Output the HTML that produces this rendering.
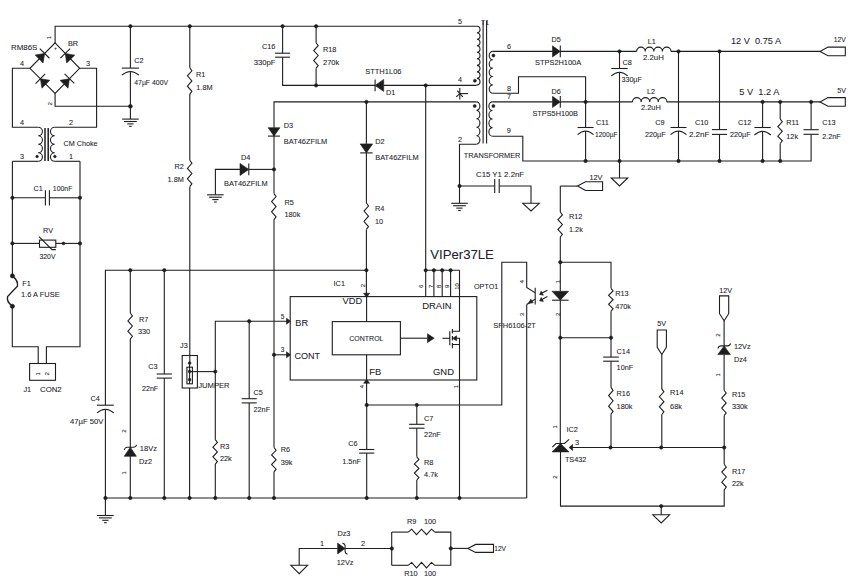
<!DOCTYPE html>
<html><head><meta charset="utf-8"><style>
html,body{margin:0;padding:0;background:#fff;}
svg{display:block;}
path,rect,circle{fill:none;stroke:#1e1e1e;stroke-width:1.1;stroke-linejoin:miter;}
.f{fill:#1e1e1e;stroke:#1e1e1e;stroke-width:0.6;}
text{white-space:pre;font-family:"Liberation Sans",sans-serif;font-size:7.3px;fill:#23232b;stroke:#23232b;stroke-width:0.08;}
</style></head><body>
<svg width="859" height="588" viewBox="0 0 859 588">
<rect x="0" y="0" width="859" height="588" style="fill:#fff;stroke:none"/>
<path d="M55.10,42.90 L55.10,26.20 L476.90,26.20"/>
<path d="M55.1,42.9 L79.6,68.3 L55.1,93.4 L29.9,68.3 Z"/>
<path class="f" d="M43.09,62.95 L35.14,55.06 L44.61,53.47 Z"/>
<path d="M49.44,58.26 L39.79,48.68"/>
<path class="f" d="M74.71,55.17 L66.65,62.94 L65.27,53.44 Z"/>
<path d="M70.16,48.72 L60.37,58.16"/>
<path class="f" d="M49.85,80.27 L41.95,88.21 L40.37,78.73 Z"/>
<path d="M45.17,73.92 L35.58,83.55"/>
<path class="f" d="M68.00,88.20 L59.99,80.37 L69.45,78.70 Z"/>
<path d="M74.31,83.45 L64.58,73.95"/>
<path d="M29.90,68.30 L12.40,68.30 L12.40,127.30 L38.20,127.30"/>
<path d="M79.60,68.30 L96.60,68.30 L96.60,127.30 L54.70,127.30"/>
<path d="M55.10,93.40 L55.10,106.30 L130.40,106.30"/>
<text x="11" y="50.4" style="font-size:8.0px" class="t" textLength="26.30" lengthAdjust="spacingAndGlyphs">RM86S</text>
<text x="68" y="46" style="font-size:8.0px" class="t" textLength="10.14" lengthAdjust="spacingAndGlyphs">BR</text>
<text x="20" y="65.7" style="font-size:8.0px" class="t" textLength="4.06" lengthAdjust="spacingAndGlyphs">4</text>
<text x="86" y="65.9" style="font-size:8.0px" class="t" textLength="4.06" lengthAdjust="spacingAndGlyphs">3</text>
<text x="55.4" y="50.3" text-anchor="middle" style="font-size:5px" class="t">+</text>
<text x="0" y="0" text-anchor="middle" class="t" style="font-size:6.0px" transform="translate(49,37.6) rotate(-90) translate(0,2.16)">1</text>
<text x="0" y="0" text-anchor="middle" class="t" style="font-size:6.0px" transform="translate(49.6,103.9) rotate(-90) translate(0,2.16)">2</text>
<path d="M38.2,127.3 A4.250,4.250 0 0 1 38.2,135.800 A4.250,4.250 0 0 1 38.2,144.300 A4.250,4.250 0 0 1 38.2,152.800 A4.250,4.250 0 0 1 38.2,161.300"/>
<path d="M54.7,127.3 A4.250,4.250 0 0 0 54.7,135.800 A4.250,4.250 0 0 0 54.7,144.300 A4.250,4.250 0 0 0 54.7,152.800 A4.250,4.250 0 0 0 54.7,161.300"/>
<path d="M38.20,161.30 L12.40,161.30"/>
<path d="M54.70,161.30 L80.00,161.30"/>
<path d="M45,128 V161 M48.2,128 V161" style="stroke-width:1.5"/>
<circle cx="37.1" cy="156.5" r="1.3" class="f"/>
<circle cx="54.9" cy="156.5" r="1.3" class="f"/>
<text x="22" y="124.7" text-anchor="middle" style="font-size:8.0px" class="t" textLength="4.06" lengthAdjust="spacingAndGlyphs">4</text>
<text x="71" y="124.7" text-anchor="middle" style="font-size:8.0px" class="t" textLength="4.06" lengthAdjust="spacingAndGlyphs">2</text>
<text x="22" y="158.6" text-anchor="middle" style="font-size:8.0px" class="t" textLength="4.06" lengthAdjust="spacingAndGlyphs">3</text>
<text x="71" y="158.6" text-anchor="middle" style="font-size:8.0px" class="t" textLength="4.06" lengthAdjust="spacingAndGlyphs">1</text>
<text x="63.5" y="145.7" style="font-size:8.0px" class="t" textLength="34.00" lengthAdjust="spacingAndGlyphs">CM Choke</text>
<path d="M12.40,161.30 L12.40,276.00"/>
<path d="M80.00,161.30 L80.00,346.70 L46.40,346.70 L46.40,363.50"/>
<path d="M12.40,197.80 L45.40,197.80"/>
<path d="M49.40,197.80 L80.00,197.80"/>
<path d="M45.40,190.20 L45.40,205.40"/>
<path d="M49.40,190.20 L49.40,205.40"/>
<circle cx="12.4" cy="197.8" r="1.7" class="f"/>
<circle cx="80" cy="197.8" r="1.7" class="f"/>
<text x="33.4" y="191.4" style="font-size:8.0px" class="t" textLength="9.33" lengthAdjust="spacingAndGlyphs">C1</text>
<text x="52.8" y="191.4" style="font-size:8.0px" class="t" textLength="19.60" lengthAdjust="spacingAndGlyphs">100nF</text>
<path d="M12.40,243.40 L39.50,243.40"/>
<path d="M55.80,243.40 L80.00,243.40"/>
<rect x="39.5" y="240.1" width="16.3" height="7.2"/>
<path d="M39.00,236.60 L52.00,249.60 L55.80,249.60"/>
<circle cx="63.5" cy="243.4" r="1.4" class="f"/>
<circle cx="12.4" cy="243.4" r="1.7" class="f"/>
<circle cx="80" cy="243.4" r="1.7" class="f"/>
<text x="43.1" y="233" style="font-size:8.0px" class="t" textLength="10.01" lengthAdjust="spacingAndGlyphs">RV</text>
<text x="39.5" y="258.7" style="font-size:8.0px" class="t" textLength="16.00" lengthAdjust="spacingAndGlyphs">320V</text>
<circle cx="12.4" cy="275.9" r="2.1" class="f"/>
<circle cx="12.4" cy="306.3" r="2.1" class="f"/>
<path d="M12.4,275.9 Q18.6,281 17.4,286.2 L7.6,296.6 Q6.2,301.5 12.4,306.3" style="stroke-width:1.4"/>
<text x="22.2" y="286" style="font-size:8.0px" class="t" textLength="8.52" lengthAdjust="spacingAndGlyphs">F1</text>
<text x="21" y="297.1" style="font-size:8.0px" class="t" textLength="38.70" lengthAdjust="spacingAndGlyphs">1.6 A FUSE</text>
<path d="M12.30,306.30 L12.30,346.70 L38.20,346.70 L38.20,363.50"/>
<rect x="29.6" y="363.5" width="25.9" height="16.8"/>
<text x="0" y="0" text-anchor="middle" class="t" style="font-size:6.0px" transform="translate(38.2,373.9) rotate(-90) translate(0,2.16)">1</text>
<text x="0" y="0" text-anchor="middle" class="t" style="font-size:6.0px" transform="translate(46.4,373.9) rotate(-90) translate(0,2.16)">2</text>
<text x="23.4" y="392" style="font-size:8.0px" class="t" textLength="7.71" lengthAdjust="spacingAndGlyphs">J1</text>
<text x="40" y="392" style="font-size:8.0px" class="t" textLength="21.70" lengthAdjust="spacingAndGlyphs">CON2</text>
<path d="M130.40,26.20 L130.40,68.10"/>
<path d="M130.40,71.50 L130.40,119.10"/>
<path d="M121.80,68.10 L139.00,68.10"/>
<path d="M121.80000000000001,75.2 Q130.4,67.8 139.0,75.2"/>
<circle cx="130.4" cy="26.2" r="1.7" class="f"/>
<circle cx="130.4" cy="106.3" r="1.9" class="f"/>
<path d="M122.10,119.10 L138.70,119.10"/>
<path d="M124.05,121.50 L136.75,121.50"/>
<path d="M127.25,123.90 L133.55,123.90"/>
<path d="M129.10,126.30 L131.70,126.30"/>
<text x="134.2" y="63.2" style="font-size:8.0px" class="t" textLength="9.33" lengthAdjust="spacingAndGlyphs">C2</text>
<text x="134.2" y="84.7" style="font-size:8.0px" class="t" textLength="34.00" lengthAdjust="spacingAndGlyphs">47µF 400V</text>
<path d="M189.80,26.20 L189.80,67.80"/>
<path d="M189.80,67.80 L191.90,70.79 L187.40,75.87 L191.90,80.95 L187.40,86.23 L191.90,91.31 L189.80,94.10"/>
<path d="M189.80,94.10 L189.80,160.30"/>
<path d="M189.80,160.30 L191.90,163.30 L187.40,168.40 L191.90,173.50 L187.40,178.80 L191.90,183.90 L189.80,186.70"/>
<path d="M189.80,186.70 L189.80,363.10"/>
<circle cx="189.8" cy="26.2" r="1.7" class="f"/>
<text x="196.1" y="76.7" style="font-size:8.0px" class="t" textLength="9.33" lengthAdjust="spacingAndGlyphs">R1</text>
<text x="196.3" y="89.9" style="font-size:8.0px" class="t" textLength="16.23" lengthAdjust="spacingAndGlyphs">1.8M</text>
<text x="183.8" y="168.8" text-anchor="end" style="font-size:8.0px" class="t" textLength="9.33" lengthAdjust="spacingAndGlyphs">R2</text>
<text x="183.8" y="181.7" text-anchor="end" style="font-size:8.0px" class="t" textLength="16.23" lengthAdjust="spacingAndGlyphs">1.8M</text>
<path d="M282.60,26.20 L282.60,53.20"/>
<path d="M282.60,57.20 L282.60,85.40 L375.10,85.40"/>
<path d="M275.10,53.20 L290.10,53.20"/>
<path d="M275.10,57.20 L290.10,57.20"/>
<circle cx="282.6" cy="26.2" r="1.7" class="f"/>
<text x="262" y="48.5" style="font-size:8.0px" class="t" textLength="13.39" lengthAdjust="spacingAndGlyphs">C16</text>
<text x="253.75" y="65" style="font-size:8.0px" class="t" textLength="21.75" lengthAdjust="spacingAndGlyphs">330pF</text>
<path d="M316.10,26.20 L316.10,42.80"/>
<path d="M316.10,42.80 L318.20,45.69 L313.70,50.59 L318.20,55.50 L313.70,60.60 L318.20,65.51 L316.10,68.20"/>
<path d="M316.10,68.20 L316.10,85.40"/>
<circle cx="316.1" cy="26.2" r="1.7" class="f"/>
<circle cx="316.1" cy="85.4" r="1.7" class="f"/>
<text x="323" y="51.5" style="font-size:8.0px" class="t" textLength="13.39" lengthAdjust="spacingAndGlyphs">R18</text>
<text x="323" y="65" style="font-size:8.0px" class="t" textLength="16.25" lengthAdjust="spacingAndGlyphs">270k</text>
<path class="f" d="M383.70,79.40 L383.70,91.40 L375.10,85.40 Z"/>
<path d="M375.10,79.60 L375.10,91.20"/>
<path d="M383.70,85.40 L476.50,85.40"/>
<circle cx="425.7" cy="85.4" r="1.7" class="f"/>
<text x="365.2" y="74.1" style="font-size:8.0px" class="t" textLength="36.30" lengthAdjust="spacingAndGlyphs">STTH1L06</text>
<text x="386.1" y="94.9" style="font-size:8.0px" class="t" textLength="9.33" lengthAdjust="spacingAndGlyphs">D1</text>
<path d="M425.70,85.40 L425.70,270.30"/>
<path d="M459.80,88.00 L459.80,99.60"/>
<path d="M459.80,93.60 L468.20,93.60"/>
<path d="M459.80,93.60 L456.20,96.80"/>
<path d="M459.80,93.60 L462.80,96.80"/>
<path d="M459.80,93.60 L457.30,90.60"/>
<path d="M274.00,136.10 L274.00,101.90 L476.50,101.90"/>
<circle cx="366.4" cy="101.9" r="1.7" class="f"/>
<path class="f" d="M268.10,127.70 L279.90,127.70 L274.00,136.10 Z"/>
<path d="M268.00,136.10 L280.00,136.10"/>
<path d="M274.00,136.10 L274.00,193.60"/>
<text x="283.8" y="128" style="font-size:8.0px" class="t" textLength="9.33" lengthAdjust="spacingAndGlyphs">D3</text>
<text x="283.8" y="143.5" style="font-size:8.0px" class="t" textLength="43.50" lengthAdjust="spacingAndGlyphs">BAT46ZFILM</text>
<path d="M366.40,101.90 L366.40,143.90"/>
<path class="f" d="M360.20,143.90 L372.60,143.90 L366.40,152.90 Z"/>
<path d="M360.20,152.90 L372.60,152.90"/>
<path d="M366.40,152.90 L366.40,203.00"/>
<text x="375.2" y="143.5" style="font-size:8.0px" class="t" textLength="9.33" lengthAdjust="spacingAndGlyphs">D2</text>
<text x="375.2" y="159.6" style="font-size:8.0px" class="t" textLength="43.50" lengthAdjust="spacingAndGlyphs">BAT46ZFILM</text>
<path d="M215.40,194.80 L215.40,169.40 L240.00,169.40"/>
<path class="f" d="M240.00,175.40 L240.00,163.40 L248.80,169.40 Z"/>
<path d="M248.80,175.20 L248.80,163.60"/>
<path d="M248.80,169.40 L274.00,169.40"/>
<circle cx="274" cy="169.4" r="1.7" class="f"/>
<path d="M207.10,194.80 L223.70,194.80"/>
<path d="M209.05,197.20 L221.75,197.20"/>
<path d="M212.25,199.60 L218.55,199.60"/>
<path d="M214.10,202.00 L216.70,202.00"/>
<text x="241" y="159.8" style="font-size:8.0px" class="t" textLength="9.33" lengthAdjust="spacingAndGlyphs">D4</text>
<text x="224.1" y="185.5" style="font-size:8.0px" class="t" textLength="43.50" lengthAdjust="spacingAndGlyphs">BAT46ZFILM</text>
<path d="M274.00,193.60 L276.10,196.55 L271.60,201.58 L276.10,206.60 L271.60,211.82 L276.10,216.84 L274.00,219.60"/>
<path d="M274.00,219.60 L274.00,447.50"/>
<text x="284.5" y="205" style="font-size:8.0px" class="t" textLength="9.33" lengthAdjust="spacingAndGlyphs">R5</text>
<text x="284.5" y="217" style="font-size:8.0px" class="t" textLength="15.83" lengthAdjust="spacingAndGlyphs">180k</text>
<path d="M366.40,203.00 L368.50,206.00 L364.00,211.10 L368.50,216.20 L364.00,221.50 L368.50,226.60 L366.40,229.40"/>
<path d="M366.40,229.40 L366.40,296.60"/>
<text x="375" y="210.6" style="font-size:8.0px" class="t" textLength="9.33" lengthAdjust="spacingAndGlyphs">R4</text>
<text x="375" y="223.6" style="font-size:8.0px" class="t" textLength="8.12" lengthAdjust="spacingAndGlyphs">10</text>
<path d="M476.9,26.2 A3.100,3.261 0 0 1 476.9,32.722 A3.100,3.261 0 0 1 476.9,39.244 A3.100,3.261 0 0 1 476.9,45.767 A3.100,3.261 0 0 1 476.9,52.289 A3.100,3.261 0 0 1 476.9,58.811 A3.100,3.261 0 0 1 476.9,65.333 A3.100,3.261 0 0 1 476.9,71.856 A3.100,3.261 0 0 1 476.9,78.378 A3.100,3.261 0 0 1 476.9,84.900"/>
<path d="M476.90,84.90 L476.50,85.40"/>
<circle cx="474.9" cy="80.7" r="1.5" class="f"/>
<path d="M483.1,21 V143.6 M486.6,21 V143.6" style="stroke-width:1.1"/>
<text x="485" y="24.8" text-anchor="middle" style="font-size:6.8px" class="t">T1</text>
<text x="460" y="23.5" text-anchor="middle" style="font-size:8.0px" class="t" textLength="4.06" lengthAdjust="spacingAndGlyphs">5</text>
<text x="460" y="82.2" text-anchor="middle" style="font-size:8.0px" class="t" textLength="4.06" lengthAdjust="spacingAndGlyphs">4</text>
<path d="M476.5,101.9 A3.400,4.230 0 0 1 476.5,110.360 A3.400,4.230 0 0 1 476.5,118.820 A3.400,4.230 0 0 1 476.5,127.280 A3.400,4.230 0 0 1 476.5,135.740 A3.400,4.230 0 0 1 476.5,144.200"/>
<circle cx="474.7" cy="106" r="1.5" class="f"/>
<path d="M476.50,144.20 L459.50,144.20 L459.50,203.30"/>
<text x="460" y="142" text-anchor="middle" style="font-size:8.0px" class="t" textLength="4.06" lengthAdjust="spacingAndGlyphs">2</text>
<circle cx="459.5" cy="186" r="1.7" class="f"/>
<path d="M451.20,203.30 L467.80,203.30"/>
<path d="M453.15,205.70 L465.85,205.70"/>
<path d="M456.35,208.10 L462.65,208.10"/>
<path d="M458.20,210.50 L460.80,210.50"/>
<path d="M459.50,186.00 L494.70,186.00"/>
<path d="M499.20,186.00 L531.00,186.00 L531.00,203.30"/>
<path d="M494.70,179.00 L494.70,193.00"/>
<path d="M499.20,179.00 L499.20,193.00"/>
<path d="M522.75,203.30 L539.25,203.30 L531.00,211.00 Z"/>
<text x="476" y="176.7" style="font-size:8.0px" class="t" textLength="48.10" lengthAdjust="spacingAndGlyphs">C15 Y1 2.2nF</text>
<text x="463.8" y="157.8" style="font-size:8.0px" class="t" textLength="56.60" lengthAdjust="spacingAndGlyphs">TRANSFORMER</text>
<path d="M492.8,51.4 A3.600,4.190 0 0 0 492.8,59.780 A3.600,4.190 0 0 0 492.8,68.160 A3.600,4.190 0 0 0 492.8,76.540 A3.600,4.190 0 0 0 492.8,84.920 A3.600,4.190 0 0 0 492.8,93.300"/>
<circle cx="493.4" cy="55.6" r="1.5" class="f"/>
<path d="M492.80,51.40 L552.50,51.40"/>
<path d="M492.80,93.30 L518.50,93.30 L518.50,76.80 L585.60,76.80 L585.60,127.50"/>
<text x="509" y="48.8" text-anchor="middle" style="font-size:8.0px" class="t" textLength="4.06" lengthAdjust="spacingAndGlyphs">6</text>
<text x="509" y="91" text-anchor="middle" style="font-size:8.0px" class="t" textLength="4.06" lengthAdjust="spacingAndGlyphs">8</text>
<path d="M492.5,101.9 A3.600,4.287 0 0 0 492.5,110.475 A3.600,4.287 0 0 0 492.5,119.050 A3.600,4.287 0 0 0 492.5,127.625 A3.600,4.287 0 0 0 492.5,136.200"/>
<circle cx="493.4" cy="106" r="1.5" class="f"/>
<path d="M492.50,101.90 L552.50,101.90"/>
<text x="509" y="98.8" text-anchor="middle" style="font-size:8.0px" class="t" textLength="4.06" lengthAdjust="spacingAndGlyphs">7</text>
<path d="M492.50,136.20 L522.80,136.20 L522.80,161.00 L811.10,161.00 L811.10,134.30"/>
<text x="508.8" y="133" text-anchor="middle" style="font-size:8.0px" class="t" textLength="4.06" lengthAdjust="spacingAndGlyphs">9</text>
<path class="f" d="M552.50,57.00 L552.50,45.80 L560.30,51.40 Z"/>
<path d="M560.30,57.30 L560.30,45.50"/>
<path class="f" d="M552.50,107.50 L552.50,96.30 L560.30,101.90 Z"/>
<path d="M560.30,107.80 L560.30,96.00"/>
<path d="M560.30,51.40 L636.60,51.40"/>
<path d="M560.30,101.90 L632.50,101.90"/>
<text x="556.2" y="42.2" text-anchor="middle" style="font-size:8.0px" class="t" textLength="9.33" lengthAdjust="spacingAndGlyphs">D5</text>
<text x="535" y="65" style="font-size:8.0px" class="t" textLength="46.20" lengthAdjust="spacingAndGlyphs">STPS2H100A</text>
<text x="556.2" y="93.5" text-anchor="middle" style="font-size:8.0px" class="t" textLength="9.33" lengthAdjust="spacingAndGlyphs">D6</text>
<text x="532.5" y="116" style="font-size:8.0px" class="t" textLength="45.50" lengthAdjust="spacingAndGlyphs">STPS5H100B</text>
<circle cx="585.6" cy="101.9" r="1.7" class="f"/>
<path d="M577.60,127.50 L593.60,127.50"/>
<path d="M577.6,134.7 Q585.6,127.3 593.6,134.7"/>
<path d="M585.60,131.00 L585.60,161.00"/>
<circle cx="585.6" cy="161.0" r="1.7" class="f"/>
<text x="596" y="125" style="font-size:8.0px" class="t" textLength="12.85" lengthAdjust="spacingAndGlyphs">C11</text>
<text x="595" y="136.7" style="font-size:8.0px" class="t" textLength="22.60" lengthAdjust="spacingAndGlyphs">1200µF</text>
<circle cx="619.5" cy="51.4" r="1.7" class="f"/>
<path d="M619.50,51.40 L619.50,68.50"/>
<path d="M611.30,68.50 L627.70,68.50"/>
<path d="M611.3,75.9 Q619.5,68.5 627.7,75.9"/>
<path d="M619.50,72.20 L619.50,178.00"/>
<circle cx="619.5" cy="161.0" r="1.7" class="f"/>
<path d="M611.25,178.00 L627.75,178.00 L619.50,186.00 Z"/>
<text x="622.6" y="65" style="font-size:8.0px" class="t" textLength="9.33" lengthAdjust="spacingAndGlyphs">C8</text>
<text x="621.4" y="82" style="font-size:8.0px" class="t" textLength="20.50" lengthAdjust="spacingAndGlyphs">330µF</text>
<path d="M636.6,51.4 A4.300,4.300 0 0 1 645.200,51.4 A4.300,4.300 0 0 1 653.800,51.4 A4.300,4.300 0 0 1 662.400,51.4 A4.300,4.300 0 0 1 671.000,51.4"/>
<path d="M671.00,51.40 L820.00,51.40"/>
<path d="M632.5,101.9 A4.300,4.300 0 0 1 641.100,101.9 A4.300,4.300 0 0 1 649.700,101.9 A4.300,4.300 0 0 1 658.300,101.9 A4.300,4.300 0 0 1 666.900,101.9"/>
<path d="M666.90,101.90 L820.00,101.90"/>
<text x="651.7" y="43.7" text-anchor="middle" style="font-size:8.0px" class="t" textLength="8.12" lengthAdjust="spacingAndGlyphs">L1</text>
<text x="643" y="59.6" style="font-size:8.0px" class="t" textLength="20.80" lengthAdjust="spacingAndGlyphs">2.2uH</text>
<text x="651" y="94.3" text-anchor="middle" style="font-size:8.0px" class="t" textLength="8.12" lengthAdjust="spacingAndGlyphs">L2</text>
<text x="640.9" y="109.5" style="font-size:8.0px" class="t" textLength="20.00" lengthAdjust="spacingAndGlyphs">2.2uH</text>
<text x="731" y="44" style="font-size:9.3px" class="t" textLength="50" lengthAdjust="spacingAndGlyphs">12 V  0.75 A</text>
<text x="739.3" y="94.5" style="font-size:9.3px" class="t" textLength="40" lengthAdjust="spacingAndGlyphs">5 V  1.2 A</text>
<path d="M820,51.4 L828,47.1 L845.3,47.1 L845.3,55.699999999999996 L828,55.699999999999996 Z"/>
<path d="M820,101.9 L828,97.60000000000001 L845.3,97.60000000000001 L845.3,106.2 L828,106.2 Z"/>
<text x="833.8" y="41.9" style="font-size:8.0px" class="t" textLength="12.10" lengthAdjust="spacingAndGlyphs">12V</text>
<text x="837.2" y="92.6" style="font-size:8.0px" class="t" textLength="8.80" lengthAdjust="spacingAndGlyphs">5V</text>
<circle cx="678.5" cy="51.4" r="1.7" class="f"/>
<circle cx="719.5" cy="51.4" r="1.7" class="f"/>
<circle cx="762.6" cy="101.9" r="1.7" class="f"/>
<circle cx="780.2" cy="101.9" r="1.7" class="f"/>
<circle cx="811.1" cy="101.9" r="1.7" class="f"/>
<path d="M678.50,51.40 L678.50,127.50"/>
<path d="M670.50,127.50 L686.50,127.50"/>
<path d="M670.5,134.7 Q678.5,127.3 686.5,134.7"/>
<path d="M678.50,131.00 L678.50,161.00"/>
<path d="M719.50,51.40 L719.50,129.60"/>
<path d="M711.90,129.60 L727.10,129.60"/>
<path d="M711.90,134.40 L727.10,134.40"/>
<path d="M719.50,134.40 L719.50,161.00"/>
<path d="M762.60,101.90 L762.60,127.50"/>
<path d="M754.40,127.50 L770.80,127.50"/>
<path d="M754.4,135.0 Q762.6,127.60000000000001 770.8000000000001,135.0"/>
<path d="M762.60,131.30 L762.60,161.00"/>
<path d="M780.20,101.90 L780.20,119.00"/>
<path d="M780.20,119.00 L782.30,121.78 L777.80,126.52 L782.30,131.25 L777.80,136.17 L782.30,140.90 L780.20,143.50"/>
<path d="M780.20,143.50 L780.20,161.00"/>
<path d="M811.10,101.90 L811.10,129.70"/>
<path d="M803.50,129.70 L818.70,129.70"/>
<path d="M803.50,134.30 L818.70,134.30"/>
<circle cx="678.5" cy="161.0" r="1.7" class="f"/>
<circle cx="719.5" cy="161.0" r="1.7" class="f"/>
<circle cx="762.6" cy="161.0" r="1.7" class="f"/>
<circle cx="780.2" cy="161.0" r="1.7" class="f"/>
<text x="655.3" y="125.3" style="font-size:8.0px" class="t" textLength="9.33" lengthAdjust="spacingAndGlyphs">C9</text>
<text x="644.9" y="137.1" style="font-size:8.0px" class="t" textLength="20.70" lengthAdjust="spacingAndGlyphs">220µF</text>
<text x="695" y="125.3" style="font-size:8.0px" class="t" textLength="13.39" lengthAdjust="spacingAndGlyphs">C10</text>
<text x="688.9" y="137.1" style="font-size:8.0px" class="t" textLength="20.60" lengthAdjust="spacingAndGlyphs">2.2nF</text>
<text x="738" y="124.7" style="font-size:8.0px" class="t" textLength="13.39" lengthAdjust="spacingAndGlyphs">C12</text>
<text x="730" y="137.1" style="font-size:8.0px" class="t" textLength="20.70" lengthAdjust="spacingAndGlyphs">220µF</text>
<text x="786.3" y="124.7" style="font-size:8.0px" class="t" textLength="12.85" lengthAdjust="spacingAndGlyphs">R11</text>
<text x="786.3" y="138.5" style="font-size:8.0px" class="t" textLength="11.77" lengthAdjust="spacingAndGlyphs">12k</text>
<text x="822.2" y="124.7" style="font-size:8.0px" class="t" textLength="13.39" lengthAdjust="spacingAndGlyphs">C13</text>
<text x="822.2" y="138.5" style="font-size:8.0px" class="t" textLength="18.60" lengthAdjust="spacingAndGlyphs">2.2nF</text>
<path d="M105.40,405.20 L105.40,270.30 L366.50,270.30"/>
<path d="M105.40,409.20 L105.40,498.00"/>
<circle cx="130.3" cy="270.2" r="1.7" class="f"/>
<circle cx="164.3" cy="270.2" r="1.7" class="f"/>
<circle cx="366.4" cy="270.2" r="1.7" class="f"/>
<path d="M130.30,270.20 L130.30,313.00"/>
<path d="M130.30,313.00 L132.40,315.95 L127.90,320.98 L132.40,326.00 L127.90,331.22 L132.40,336.24 L130.30,339.00"/>
<path d="M130.30,339.00 L130.30,447.90"/>
<text x="139.1" y="322.2" style="font-size:8.0px" class="t" textLength="9.33" lengthAdjust="spacingAndGlyphs">R7</text>
<text x="138" y="333.9" style="font-size:8.0px" class="t" textLength="12.18" lengthAdjust="spacingAndGlyphs">330</text>
<path class="f" d="M136.40,456.30 L124.20,456.30 L130.30,447.30 Z"/>
<path d="M124.20,449.90 Q125.12,447.30 126.95,447.30 L133.66,447.30 Q135.79,447.30 136.71,444.90"/>
<path d="M130.30,455.70 L130.30,498.00"/>
<text x="0" y="0" text-anchor="middle" class="t" style="font-size:6.0px" transform="translate(123.8,431.2) rotate(-90) translate(0,2.16)">2</text>
<text x="0" y="0" text-anchor="middle" class="t" style="font-size:6.0px" transform="translate(123.8,472.9) rotate(-90) translate(0,2.16)">1</text>
<text x="139.8" y="451" style="font-size:8.0px" class="t" textLength="17.10" lengthAdjust="spacingAndGlyphs">18Vz</text>
<text x="139" y="463.7" style="font-size:8.0px" class="t" textLength="12.98" lengthAdjust="spacingAndGlyphs">Dz2</text>
<path d="M164.30,270.20 L164.30,374.00"/>
<path d="M156.70,374.00 L171.90,374.00"/>
<path d="M156.70,378.10 L171.90,378.10"/>
<path d="M164.30,378.10 L164.30,498.00"/>
<text x="148.2" y="369.3" style="font-size:8.0px" class="t" textLength="9.33" lengthAdjust="spacingAndGlyphs">C3</text>
<text x="142" y="391.4" style="font-size:8.0px" class="t" textLength="16.20" lengthAdjust="spacingAndGlyphs">22nF</text>
<path d="M97.00,405.20 L113.80,405.20"/>
<path d="M97.0,412.9 Q105.4,405.5 113.80000000000001,412.9"/>
<text x="90.5" y="401.4" style="font-size:8.0px" class="t" textLength="9.33" lengthAdjust="spacingAndGlyphs">C4</text>
<text x="70" y="424" style="font-size:8.0px" class="t" textLength="33.40" lengthAdjust="spacingAndGlyphs">47µF 50V</text>
<path d="M105.40,498.00 L105.40,515.50"/>
<path d="M97.10,515.50 L113.70,515.50"/>
<path d="M99.05,517.90 L111.75,517.90"/>
<path d="M102.25,520.30 L108.55,520.30"/>
<path d="M104.10,522.70 L106.70,522.70"/>
<rect x="182.2" y="355.5" width="15.2" height="32.5"/>
<rect x="186.9" y="367.2" width="5.5" height="16.6"/>
<path d="M189.60,363.10 L189.60,383.80"/>
<circle cx="189.6" cy="363.1" r="1.4" class="f"/>
<circle cx="189.6" cy="371.6" r="1.4" class="f"/>
<circle cx="189.6" cy="379.7" r="1.4" class="f"/>
<path d="M189.60,371.60 L215.30,371.60"/>
<path d="M189.60,388.00 L189.60,498.00"/>
<circle cx="215.3" cy="371.6" r="1.7" class="f"/>
<text x="180.1" y="347.5" style="font-size:8.0px" class="t" textLength="7.71" lengthAdjust="spacingAndGlyphs">J3</text>
<text x="198.2" y="387.6" style="font-size:8.0px" class="t" textLength="31.40" lengthAdjust="spacingAndGlyphs">JUMPER</text>
<path d="M215.30,439.70 L215.30,321.20 L287.00,321.20"/>
<path d="M215.30,464.10 L215.30,498.00"/>
<circle cx="249.2" cy="321.2" r="1.7" class="f"/>
<path d="M249.20,321.20 L249.20,398.70"/>
<path d="M241.70,398.70 L256.70,398.70"/>
<path d="M241.70,402.90 L256.70,402.90"/>
<path d="M249.20,402.90 L249.20,498.00"/>
<text x="253.5" y="394.8" style="font-size:8.0px" class="t" textLength="9.33" lengthAdjust="spacingAndGlyphs">C5</text>
<text x="253.5" y="411.8" style="font-size:8.0px" class="t" textLength="16.64" lengthAdjust="spacingAndGlyphs">22nF</text>
<path d="M215.30,439.70 L217.40,442.47 L212.90,447.19 L217.40,451.90 L212.90,456.80 L217.40,461.51 L215.30,464.10"/>
<text x="219.9" y="449" style="font-size:8.0px" class="t" textLength="9.33" lengthAdjust="spacingAndGlyphs">R3</text>
<text x="219.9" y="460.5" style="font-size:8.0px" class="t" textLength="11.77" lengthAdjust="spacingAndGlyphs">22k</text>
<circle cx="274" cy="354.8" r="1.7" class="f"/>
<path d="M274.00,354.80 L287.00,354.80"/>
<path class="f" d="M286.50,318.20 L286.50,324.20 L290.50,321.20 Z"/>
<path class="f" d="M286.50,351.80 L286.50,357.80 L290.50,354.80 Z"/>
<path d="M274.00,447.50 L276.10,450.26 L271.60,454.96 L276.10,459.65 L271.60,464.53 L276.10,469.22 L274.00,471.80"/>
<path d="M274.00,471.80 L274.00,498.00"/>
<text x="280.7" y="452.3" style="font-size:8.0px" class="t" textLength="9.33" lengthAdjust="spacingAndGlyphs">R6</text>
<text x="280.7" y="464.9" style="font-size:8.0px" class="t" textLength="11.77" lengthAdjust="spacingAndGlyphs">39k</text>
<text x="282.5" y="318.5" text-anchor="middle" style="font-size:6.5px" class="t">5</text>
<text x="282.5" y="351.5" text-anchor="middle" style="font-size:6.5px" class="t">3</text>
<path d="M105.40,498.00 L526.70,498.00"/>
<circle cx="105.4" cy="498.0" r="1.7" class="f"/>
<circle cx="130.3" cy="498.0" r="1.7" class="f"/>
<circle cx="164.3" cy="498.0" r="1.7" class="f"/>
<circle cx="189.6" cy="498.0" r="1.7" class="f"/>
<circle cx="215.3" cy="498.0" r="1.7" class="f"/>
<circle cx="249.2" cy="498.0" r="1.7" class="f"/>
<circle cx="274" cy="498.0" r="1.7" class="f"/>
<circle cx="366.7" cy="498.0" r="1.7" class="f"/>
<circle cx="416.8" cy="498.0" r="1.7" class="f"/>
<circle cx="459.5" cy="498.0" r="1.7" class="f"/>
<rect x="290.2" y="296.6" width="186.6" height="83.4"/>
<rect x="332.3" y="321.6" width="68.1" height="33.2"/>
<path d="M366.60,296.60 L366.60,321.60"/>
<path d="M366.60,354.80 L366.60,405.00"/>
<path class="f" d="M363.60,293.20 L369.60,293.20 L366.60,297.60 Z"/>
<path class="f" d="M363.60,383.20 L369.60,383.20 L366.60,379.40 Z"/>
<path d="M400.40,338.20 L427.50,338.20"/>
<path class="f" d="M427.50,333.80 L427.50,342.60 L434.20,338.20 Z"/>
<text x="366.4" y="341.3" text-anchor="middle" style="font-size:7px" class="t">CONTROL</text>
<text x="342.5" y="304.3" style="font-size:9.8px" class="t" textLength="19.60" lengthAdjust="spacingAndGlyphs">VDD</text>
<text x="422.2" y="309.3" style="font-size:9.8px" class="t" textLength="29.40" lengthAdjust="spacingAndGlyphs">DRAIN</text>
<text x="295.3" y="325.6" style="font-size:9.8px" class="t" textLength="12.80" lengthAdjust="spacingAndGlyphs">BR</text>
<text x="294.5" y="358.7" style="font-size:9.8px" class="t" textLength="25.50" lengthAdjust="spacingAndGlyphs">CONT</text>
<text x="369.3" y="374.5" style="font-size:9.8px" class="t" textLength="12.00" lengthAdjust="spacingAndGlyphs">FB</text>
<text x="433" y="374.5" style="font-size:9.8px" class="t" textLength="21.00" lengthAdjust="spacingAndGlyphs">GND</text>
<text x="333.6" y="285.8" style="font-size:8.0px" class="t" textLength="11.36" lengthAdjust="spacingAndGlyphs">IC1</text>
<text x="0" y="0" text-anchor="middle" class="t" style="font-size:6.0px" transform="translate(362.6,285.7) rotate(-90) translate(0,2.16)">2</text>
<text x="0" y="0" text-anchor="middle" class="t" style="font-size:6.0px" transform="translate(361.8,386.6) rotate(-90) translate(0,2.16)">4</text>
<text x="0" y="0" text-anchor="middle" class="t" style="font-size:6.0px" transform="translate(455.9,386.6) rotate(-90) translate(0,2.16)">1</text>
<path d="M442.50,338.30 L449.80,338.30"/>
<path d="M449.80,331.30 L449.80,345.20"/>
<path d="M452.40,329.00 L452.40,333.50"/>
<path d="M452.40,336.00 L452.40,340.60"/>
<path d="M452.40,343.00 L452.40,348.20"/>
<path d="M452.40,331.30 L459.50,331.30 L459.50,270.30"/>
<path d="M452.40,344.50 L459.50,344.50 L459.50,498.00"/>
<path d="M455.50,338.30 L459.50,338.30 L459.50,344.50"/>
<path class="f" d="M452.60,338.30 L456.60,335.80 L456.60,340.80 Z"/>
<path d="M425.70,270.30 L459.50,270.30"/>
<circle cx="425.7" cy="270.3" r="1.7" class="f"/>
<path d="M425.70,270.30 L425.70,296.60"/>
<circle cx="433.9" cy="270.3" r="1.7" class="f"/>
<path d="M433.90,270.30 L433.90,296.60"/>
<circle cx="442.2" cy="270.3" r="1.7" class="f"/>
<path d="M442.20,270.30 L442.20,296.60"/>
<circle cx="450.6" cy="270.3" r="1.7" class="f"/>
<path d="M450.60,270.30 L450.60,296.60"/>
<text x="0" y="0" text-anchor="middle" class="t" style="font-size:6.0px" transform="translate(421.2,286.4) rotate(-90) translate(0,2.16)">6</text>
<text x="0" y="0" text-anchor="middle" class="t" style="font-size:6.0px" transform="translate(431,286.4) rotate(-90) translate(0,2.16)">7</text>
<text x="0" y="0" text-anchor="middle" class="t" style="font-size:6.0px" transform="translate(439,286.4) rotate(-90) translate(0,2.16)">8</text>
<text x="0" y="0" text-anchor="middle" class="t" style="font-size:6.0px" transform="translate(447.2,286.4) rotate(-90) translate(0,2.16)">9</text>
<text x="0" y="0" text-anchor="middle" class="t" style="font-size:6.0px" transform="translate(456.4,286.4) rotate(-90) translate(0,2.16)">10</text>
<text x="430.2" y="259" style="font-size:13.7px" class="t" textLength="63.70" lengthAdjust="spacingAndGlyphs">VIPer37LE</text>
<circle cx="366.7" cy="405" r="1.7" class="f"/>
<path d="M366.70,405.00 L501.80,405.00 L501.80,262.20 L526.70,262.20 L526.70,287.50 L535.20,292.90"/>
<circle cx="416.8" cy="405" r="1.7" class="f"/>
<path d="M416.80,405.00 L416.80,424.30"/>
<path d="M409.10,424.30 L424.50,424.30"/>
<path d="M409.10,428.20 L424.50,428.20"/>
<path d="M416.80,428.20 L416.80,456.80"/>
<path d="M416.80,456.80 L418.90,459.44 L414.40,463.92 L418.90,468.40 L414.40,473.06 L418.90,477.54 L416.80,480.00"/>
<path d="M416.80,480.00 L416.80,498.00"/>
<text x="424.1" y="421" style="font-size:8.0px" class="t" textLength="9.33" lengthAdjust="spacingAndGlyphs">C7</text>
<text x="424.1" y="437.4" style="font-size:8.0px" class="t" textLength="16.64" lengthAdjust="spacingAndGlyphs">22nF</text>
<text x="424.1" y="465" style="font-size:8.0px" class="t" textLength="9.33" lengthAdjust="spacingAndGlyphs">R8</text>
<text x="424.1" y="476.5" style="font-size:8.0px" class="t" textLength="13.80" lengthAdjust="spacingAndGlyphs">4.7k</text>
<path d="M366.70,405.00 L366.70,449.50"/>
<path d="M359.10,449.50 L374.30,449.50"/>
<path d="M359.10,453.10 L374.30,453.10"/>
<path d="M366.70,453.10 L366.70,498.00"/>
<text x="348.3" y="445.5" style="font-size:8.0px" class="t" textLength="9.33" lengthAdjust="spacingAndGlyphs">C6</text>
<text x="342.2" y="463.6" style="font-size:8.0px" class="t" textLength="18.90" lengthAdjust="spacingAndGlyphs">1.5nF</text>
<text x="474" y="289.2" style="font-size:8.0px" class="t" textLength="24.25" lengthAdjust="spacingAndGlyphs">OPTO1</text>
<path d="M535.20,287.80 L535.20,304.50"/>
<path d="M535.20,299.10 L526.70,304.50"/>
<path d="M526.70,304.50 L526.70,498.00"/>
<path class="f" d="M528.20,303.60 L530.80,299.20 L533.40,302.60 Z"/>
<text x="0" y="0" text-anchor="middle" class="t" style="font-size:6.0px" transform="translate(522.2,281.5) rotate(-90) translate(0,2.16)">4</text>
<text x="0" y="0" text-anchor="middle" class="t" style="font-size:6.0px" transform="translate(522.2,314.6) rotate(-90) translate(0,2.16)">3</text>
<text x="493.3" y="328.3" style="font-size:8.0px" class="t" textLength="42.50" lengthAdjust="spacingAndGlyphs">SFH6106-2T</text>
<path d="M547.40,290.20 L541.00,293.60"/>
<path d="M547.40,296.40 L541.00,299.90"/>
<path class="f" d="M539.60,294.50 L541.20,291.30 L543.40,295.20 Z"/>
<path class="f" d="M539.60,300.80 L541.20,297.60 L543.40,301.50 Z"/>
<path d="M560.30,186.10 L577.50,186.10"/>
<path d="M577.5,186.1 L585.5,181.7 L602.6,181.7 L602.6,190.5 L585.5,190.5 Z"/>
<text x="596" y="180" text-anchor="middle" style="font-size:8.0px" class="t" textLength="12.99" lengthAdjust="spacingAndGlyphs">12V</text>
<path d="M560.30,186.00 L560.30,212.00"/>
<path d="M560.30,212.00 L562.40,214.84 L557.90,219.67 L562.40,224.50 L557.90,229.52 L562.40,234.35 L560.30,237.00"/>
<path d="M560.30,237.00 L560.30,291.30"/>
<text x="569" y="219" style="font-size:8.0px" class="t" textLength="13.39" lengthAdjust="spacingAndGlyphs">R12</text>
<text x="569" y="231.6" style="font-size:8.0px" class="t" textLength="13.80" lengthAdjust="spacingAndGlyphs">1.2k</text>
<circle cx="560.3" cy="262.2" r="1.7" class="f"/>
<path d="M560.30,262.20 L611.00,262.20 L611.00,288.30"/>
<path d="M611.00,288.30 L613.10,290.90 L608.60,295.33 L613.10,299.75 L608.60,304.35 L613.10,308.77 L611.00,311.20"/>
<path d="M611.00,311.20 L611.00,357.10"/>
<text x="615.2" y="296" style="font-size:8.0px" class="t" textLength="13.39" lengthAdjust="spacingAndGlyphs">R13</text>
<text x="615.2" y="309" style="font-size:8.0px" class="t" textLength="15.83" lengthAdjust="spacingAndGlyphs">470k</text>
<path class="f" d="M552.00,291.30 L568.60,291.30 L560.30,300.20 Z"/>
<path d="M552.00,300.20 L568.60,300.20"/>
<path d="M560.30,300.20 L560.30,443.50"/>
<text x="0" y="0" text-anchor="middle" class="t" style="font-size:6.0px" transform="translate(557.4,281.5) rotate(-90) translate(0,2.16)">1</text>
<text x="0" y="0" text-anchor="middle" class="t" style="font-size:6.0px" transform="translate(557.4,314.3) rotate(-90) translate(0,2.16)">2</text>
<circle cx="560.3" cy="337.7" r="1.7" class="f"/>
<circle cx="611" cy="337.7" r="1.7" class="f"/>
<path d="M560.30,337.70 L611.00,337.70"/>
<path d="M603.20,357.10 L618.80,357.10"/>
<path d="M603.20,361.20 L618.80,361.20"/>
<path d="M611.00,361.20 L611.00,387.40"/>
<path d="M611.00,387.40 L613.10,390.45 L608.60,395.62 L613.10,400.80 L608.60,406.18 L613.10,411.36 L611.00,414.20"/>
<path d="M611.00,414.20 L611.00,447.50"/>
<text x="616.6" y="353.5" style="font-size:8.0px" class="t" textLength="13.39" lengthAdjust="spacingAndGlyphs">C14</text>
<text x="616.6" y="369.7" style="font-size:8.0px" class="t" textLength="16.64" lengthAdjust="spacingAndGlyphs">10nF</text>
<text x="616.6" y="395.5" style="font-size:8.0px" class="t" textLength="13.39" lengthAdjust="spacingAndGlyphs">R16</text>
<text x="616.6" y="409.1" style="font-size:8.0px" class="t" textLength="15.83" lengthAdjust="spacingAndGlyphs">180k</text>
<path class="f" d="M552.10,451.90 L569.10,451.90 L560.50,443.50 Z"/>
<path d="M552.30,447.20 L556.00,443.50 L564.50,443.50 L569.10,439.30"/>
<path d="M560.50,451.90 L560.50,506.10 L724.20,506.10 L724.20,489.80"/>
<path d="M571.70,447.50 L724.20,447.50 L724.20,415.70"/>
<path class="f" d="M569.10,447.50 L572.60,444.50 L572.60,450.50 Z"/>
<circle cx="610.5" cy="447.5" r="1.7" class="f"/>
<circle cx="661.2" cy="447.5" r="1.7" class="f"/>
<circle cx="724.2" cy="447.5" r="1.7" class="f"/>
<text x="566.5" y="432" style="font-size:8.0px" class="t" textLength="11.36" lengthAdjust="spacingAndGlyphs">IC2</text>
<text x="574.9" y="444.6" style="font-size:8.0px" class="t" textLength="4.06" lengthAdjust="spacingAndGlyphs">3</text>
<text x="564.9" y="462.4" style="font-size:8.0px" class="t" textLength="21.50" lengthAdjust="spacingAndGlyphs">TS432</text>
<text x="0" y="0" text-anchor="middle" class="t" style="font-size:6.0px" transform="translate(554.4,426.8) rotate(-90) translate(0,2.16)">1</text>
<text x="0" y="0" text-anchor="middle" class="t" style="font-size:6.0px" transform="translate(554.5,477.1) rotate(-90) translate(0,2.16)">2</text>
<circle cx="661.2" cy="506.1" r="1.7" class="f"/>
<path d="M661.20,506.10 L661.20,514.80"/>
<path d="M652.80,514.80 L669.60,514.80 L661.20,523.00 Z"/>
<path d="M657.1999999999999,330 L666.4,330 L666.4,347.3 L661.8,354.5 L657.1999999999999,347.3 Z"/>
<path d="M661.80,354.50 L661.80,388.90"/>
<path d="M661.80,388.90 L663.90,391.81 L659.40,396.75 L663.90,401.70 L659.40,406.84 L663.90,411.78 L661.80,414.50"/>
<path d="M661.80,414.50 L661.80,447.50"/>
<text x="657.3" y="326.4" style="font-size:8.0px" class="t" textLength="8.93" lengthAdjust="spacingAndGlyphs">5V</text>
<text x="670.1" y="395.3" style="font-size:8.0px" class="t" textLength="13.39" lengthAdjust="spacingAndGlyphs">R14</text>
<text x="670.1" y="408.5" style="font-size:8.0px" class="t" textLength="11.77" lengthAdjust="spacingAndGlyphs">68k</text>
<path d="M719.5,295.9 L728.7,295.9 L728.7,313.7 L724.1,320.8 L719.5,313.7 Z"/>
<path d="M724.10,320.80 L724.10,346.30"/>
<path class="f" d="M730.40,354.60 L717.80,354.60 L724.10,345.90 Z"/>
<path d="M717.80,348.50 Q718.75,345.90 720.63,345.90 L727.57,345.90 Q729.77,345.90 730.72,343.50"/>
<path d="M724.10,354.50 L724.10,390.20"/>
<path d="M724.10,390.20 L726.20,393.10 L721.70,398.02 L726.20,402.95 L721.70,408.07 L726.20,413.00 L724.10,415.70"/>
<text x="719.2" y="293.1" style="font-size:8.0px" class="t" textLength="12.99" lengthAdjust="spacingAndGlyphs">12V</text>
<text x="733.9" y="349.4" style="font-size:8.0px" class="t" textLength="16.80" lengthAdjust="spacingAndGlyphs">12Vz</text>
<text x="733.9" y="362.1" style="font-size:8.0px" class="t" textLength="12.98" lengthAdjust="spacingAndGlyphs">Dz4</text>
<text x="0" y="0" text-anchor="middle" class="t" style="font-size:6.0px" transform="translate(717.6,335.1) rotate(-90) translate(0,2.16)">2</text>
<text x="0" y="0" text-anchor="middle" class="t" style="font-size:6.0px" transform="translate(717.6,374.9) rotate(-90) translate(0,2.16)">1</text>
<text x="731.9" y="397.3" style="font-size:8.0px" class="t" textLength="13.39" lengthAdjust="spacingAndGlyphs">R15</text>
<text x="731.9" y="409.3" style="font-size:8.0px" class="t" textLength="15.83" lengthAdjust="spacingAndGlyphs">330k</text>
<path d="M724.20,464.20 L726.30,467.11 L721.80,472.05 L726.30,477.00 L721.80,482.14 L726.30,487.08 L724.20,489.80"/>
<path d="M724.20,447.50 L724.20,464.20"/>
<text x="731.9" y="474.4" style="font-size:8.0px" class="t" textLength="13.39" lengthAdjust="spacingAndGlyphs">R17</text>
<text x="731.9" y="485.9" style="font-size:8.0px" class="t" textLength="11.77" lengthAdjust="spacingAndGlyphs">22k</text>
<path d="M299.20,565.30 L299.20,548.50 L337.60,548.50"/>
<path d="M290.85,565.30 L307.55,565.30 L299.20,573.60 Z"/>
<path class="f" d="M337.60,553.90 L337.60,543.10 L345.10,548.50 Z"/>
<path d="M342.50,543.10 Q345.10,543.91 345.10,545.53 L345.10,551.47 Q345.10,553.36 347.50,554.17"/>
<path d="M345.10,548.50 L391.80,548.50"/>
<circle cx="391.8" cy="548.5" r="1.7" class="f"/>
<text x="322" y="545.8" text-anchor="middle" style="font-size:8.0px" class="t" textLength="4.06" lengthAdjust="spacingAndGlyphs">1</text>
<text x="363" y="545.8" text-anchor="middle" style="font-size:8.0px" class="t" textLength="4.06" lengthAdjust="spacingAndGlyphs">2</text>
<text x="337.4" y="535.8" style="font-size:8.0px" class="t" textLength="12.98" lengthAdjust="spacingAndGlyphs">Dz3</text>
<text x="336.7" y="564.7" style="font-size:8.0px" class="t" textLength="16.80" lengthAdjust="spacingAndGlyphs">12Vz</text>
<path d="M391.70,532.10 L391.70,565.30"/>
<path d="M391.70,532.10 L408.30,532.10"/>
<path d="M408.30,532.10 L411.60,529.20 L416.50,534.70 L421.50,529.20 L426.50,534.70 L431.50,529.20 L434.80,532.10"/>
<path d="M434.80,532.10 L450.80,532.10 L450.80,565.30 L434.80,565.30"/>
<path d="M408.30,565.30 L411.60,562.40 L416.50,567.90 L421.50,562.40 L426.50,567.90 L431.50,562.40 L434.80,565.30"/>
<path d="M391.70,565.30 L408.30,565.30"/>
<circle cx="450.8" cy="548.4" r="1.7" class="f"/>
<path d="M450.80,548.40 L467.80,548.40"/>
<path d="M467.8,548.4 L475.6,544.4 L493.5,544.4 L493.5,552.4 L475.6,552.4 Z"/>
<text x="494.2" y="551" style="font-size:8.0px" class="t" textLength="11.80" lengthAdjust="spacingAndGlyphs">12V</text>
<text x="407.1" y="524.3" style="font-size:8.0px" class="t" textLength="9.33" lengthAdjust="spacingAndGlyphs">R9</text>
<text x="423.9" y="524.3" style="font-size:8.0px" class="t" textLength="12.18" lengthAdjust="spacingAndGlyphs">100</text>
<text x="404.3" y="576.3" style="font-size:8.0px" class="t" textLength="13.39" lengthAdjust="spacingAndGlyphs">R10</text>
<text x="423.9" y="576.3" style="font-size:8.0px" class="t" textLength="12.18" lengthAdjust="spacingAndGlyphs">100</text>
</svg></body></html>
